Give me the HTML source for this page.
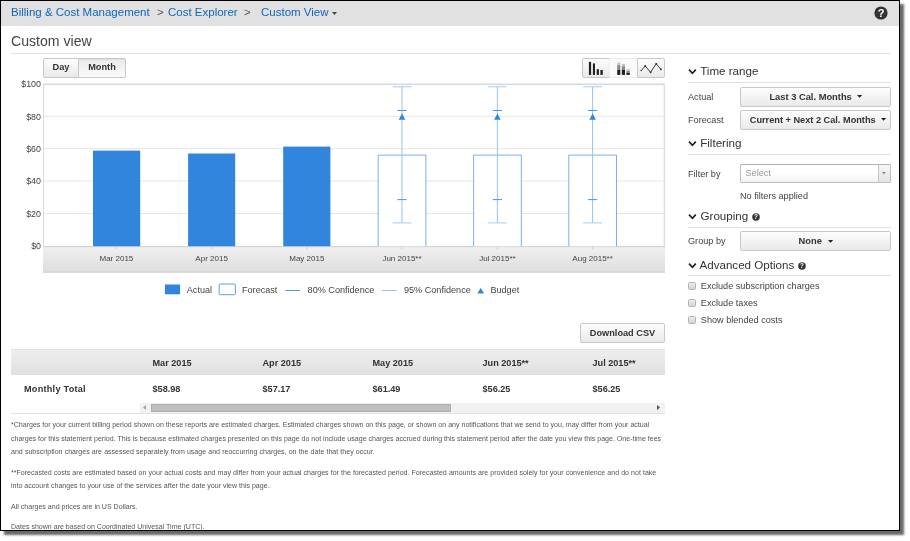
<!DOCTYPE html>
<html><head><meta charset="utf-8">
<style>
html,body{margin:0;padding:0;background:#fff;}
body{width:910px;height:541px;position:relative;overflow:hidden;font-family:"Liberation Sans",Arial,sans-serif;color:#333;}
.abs{position:absolute;white-space:nowrap;}
#frame{position:absolute;left:0;top:0;width:898px;height:529px;border:1px solid #000;background:#fff;box-shadow:4px 4px 2px 0 #6a6a6a;}
#hdr{position:absolute;left:1px;top:1px;width:898px;height:24.5px;background:#e1e1e1;}
.bc{font-size:11.5px;color:#1166bb;top:5px;line-height:14px;}
.t{line-height:12px;font-size:9.15px;color:#444;}
.b{font-weight:bold;color:#333;}
.hline{position:absolute;height:1px;background:#e2e2e2;}
.btn{position:absolute;box-sizing:border-box;border:1px solid #c8c8c8;border-radius:2px;background:linear-gradient(#fdfdfd,#e9e9e9);font-size:9.2px;font-weight:bold;color:#333;text-align:center;white-space:nowrap;}
.sec{font-size:11.6px;color:#333;line-height:14px;}
.cb{position:absolute;width:6px;height:6px;border:1px solid #b4b4b4;border-radius:1.5px;background:linear-gradient(#ececec,#d4d4d4);left:688px;}
.fn{font-size:7.05px;color:#555;line-height:10px;left:11px;}
.ax{font-size:8px;color:#333;line-height:10px;}
</style></head><body>
<div id="frame"></div>
<div id="clip" style="position:absolute;left:0;top:0;width:899px;height:530px;overflow:hidden">
<div id="hdr"></div>
<div class="abs bc" style="left:11px">Billing &amp; Cost Management</div>
<div class="abs bc" style="left:157px;color:#555">&gt;</div>
<div class="abs bc" style="left:168px">Cost Explorer</div>
<div class="abs bc" style="left:244px;color:#555">&gt;</div>
<div class="abs bc" style="left:261px">Custom View</div>
<svg class="abs" style="left:331.5px;top:11.5px" width="6" height="4"><path d="M0 0H5L2.5 3Z" fill="#444"/></svg>
<svg class="abs" style="left:874px;top:6.4px" width="14" height="14" viewBox="0 0 14 14"><circle cx="7" cy="7" r="6.6" fill="#333"/><text x="7" y="11" text-anchor="middle" font-family="Liberation Sans" font-weight="bold" font-size="11" fill="#fff">?</text></svg>

<div class="abs" style="left:11px;top:32px;font-size:14.1px;line-height:18px;color:#444">Custom view</div>
<div class="hline" style="left:11px;top:53px;width:880px"></div>

<!-- Day / Month -->
<div class="btn" style="left:43px;top:58px;width:36px;height:20px;line-height:17.2px;border-radius:2px 0 0 2px">Day</div>
<div class="btn" style="left:78px;top:58px;width:48px;height:20px;line-height:17.2px;border-radius:0 2px 2px 0;background:linear-gradient(#e9e9e9,#fbfbfb);box-shadow:inset 0 1px 1px rgba(0,0,0,.06)">Month</div>

<!-- chart type buttons -->
<div class="btn" style="left:582px;top:58px;width:28px;height:20px;border-radius:2px 0 0 2px"></div>
<div class="btn" style="left:609px;top:58px;width:29px;height:20px;border-radius:0;background:#fafafa;border-color:#eee"></div>
<div class="btn" style="left:637px;top:58px;width:28px;height:20px;border-radius:0 2px 2px 0"></div>
<svg class="abs" style="left:582px;top:58px" width="84" height="20" viewBox="0 0 84 20">
 <g fill="#222"><rect x="6.9" y="3.9" width="2.2" height="13"/><rect x="10.9" y="5.4" width="2.1" height="11.5"/><rect x="14.7" y="11.2" width="2.2" height="5.7"/><rect x="18.4" y="12" width="2.4" height="4.9"/></g>
 <g><rect x="35.2" y="4.6" width="3.1" height="2.5" fill="#c4c4c4"/><rect x="35.2" y="7.1" width="3.1" height="4.6" fill="#8a8a8a"/><rect x="35.2" y="11.7" width="3.1" height="5.2" fill="#222"/>
 <rect x="39.8" y="5.9" width="3.2" height="2.3" fill="#c4c4c4"/><rect x="39.8" y="8.2" width="3.2" height="3.5" fill="#8a8a8a"/><rect x="39.8" y="11.7" width="3.2" height="5.2" fill="#222"/>
 <rect x="44.4" y="11.2" width="3.4" height="1.8" fill="#c4c4c4"/><rect x="44.4" y="13" width="3.4" height="1.9" fill="#8a8a8a"/><rect x="44.4" y="14.9" width="3.4" height="2" fill="#222"/></g>
 <path d="M59.2 12.6L63.2 8L68.6 14.3L74.2 5.8L78.9 11.3" fill="none" stroke="#222" stroke-width="0.9"/>
 <g fill="#222"><circle cx="63.2" cy="8" r=".9"/><circle cx="68.6" cy="14.3" r=".9"/><circle cx="74.2" cy="5.8" r=".9"/><circle cx="78.9" cy="11.3" r=".9"/><circle cx="59.2" cy="12.6" r=".7"/></g>
</svg>

<!-- chart -->
<svg class="abs" style="left:0;top:80px" width="680" height="220" viewBox="0 80 680 220">
 <defs><linearGradient id="xg" x1="0" y1="0" x2="0" y2="1"><stop offset="0" stop-color="#f0f0f0"/><stop offset="1" stop-color="#dedede"/></linearGradient></defs>
 <rect x="43" y="83.5" width="622" height="1.6" fill="#dadada"/>
 <rect x="43" y="84" width="1" height="162" fill="#dcdcdc"/>
 <rect x="663.6" y="84" width="1.5" height="162" fill="#e0e0e0"/>
 <path d="M44 116.3H664.5M44 148.7H664.5M44 181.1H664.5M44 213.5H664.5" stroke="#e6e6e6" stroke-width="1" fill="none"/>
 <rect x="43" y="246.3" width="622" height="26.2" fill="url(#xg)"/>
 <rect x="43" y="246.1" width="622" height="1" fill="#cfcfcf"/>
 <rect x="43" y="271.6" width="622" height="1" fill="#cdcdcd"/>
 <path d="M116.4 247V249M211.6 247V249M306.8 247V249M402 247V249M497.4 247V249M592.6 247V249" stroke="#ccc" stroke-width="1" fill="none"/>
 <g fill="#3185dd"><rect x="93" y="150.6" width="47.2" height="95.6"/><rect x="188.1" y="153.5" width="47.1" height="92.7"/><rect x="283.2" y="146.6" width="47.2" height="99.6"/></g>
 <g fill="#fff" stroke="#4a90e2" stroke-opacity=".72" stroke-width="1"><path d="M378.2 246.2V155.1H425.9V246.2"/><path d="M473.6 246.2V155.1H521.3V246.2"/><path d="M568.8 246.2V155.1H616.5V246.2"/></g>
 <g stroke="#96c3f0" stroke-width="1" fill="none"><path d="M402 86.8V222.9"/><path d="M497.4 86.8V222.9"/><path d="M592.6 86.8V222.9"/></g>
 <g stroke="#a6ccf3" stroke-width="1" fill="none"><path d="M392.6 86.8H411.4M392.6 222.9H411.4"/><path d="M488.0 86.8H506.8M488.0 222.9H506.8"/><path d="M583.2 86.8H602.0M583.2 222.9H602.0"/></g>
 <g stroke="#4d96e2" stroke-width="1" fill="none"><path d="M397.4 110.5H406.7M397.4 199.6H406.7"/><path d="M492.8 110.5H502.1M492.8 199.6H502.1"/><path d="M588.0 110.5H597.3M588.0 199.6H597.3"/></g>
 <g fill="#2f86de"><path d="M402 113.6L405.3 119.8H398.7Z"/><path d="M497.4 113.6L500.7 119.8H494.1Z"/><path d="M592.6 113.6L595.9 119.8H589.3Z"/></g>
 <g font-family="Liberation Sans" font-size="8.9" fill="#444" text-anchor="end"><text x="41" y="86.9">$100</text><text x="41" y="119.6">$80</text><text x="41" y="151.9">$60</text><text x="41" y="184.3">$40</text><text x="41" y="216.7">$20</text><text x="41" y="248.7">$0</text></g>
 <g font-family="Liberation Sans" font-size="8" fill="#444" text-anchor="middle"><text x="116.4" y="261.3">Mar 2015</text><text x="211.6" y="261.3">Apr 2015</text><text x="306.8" y="261.3">May 2015</text><text x="402" y="261.3">Jun 2015**</text><text x="497.4" y="261.3">Jul 2015**</text><text x="592.6" y="261.3">Aug 2015**</text></g>
 <!-- legend -->
 <rect x="164.9" y="284.5" width="15.2" height="9.8" fill="#3185dd"/>
 <rect x="219.2" y="284" width="16.2" height="10.7" rx="1" fill="#fff" stroke="#5a9fe6"/>
 <path d="M285.4 290.5H300" stroke="#4d96e2"/><path d="M381.8 290.5H396.8" stroke="#96c2f0"/>
 <path d="M480.7 287.9L484.1 293.4H477.3Z" fill="#2f86de"/>
 <g font-family="Liberation Sans" font-size="9.1" fill="#444"><text x="186.8" y="293">Actual</text><text x="242" y="293">Forecast</text><text x="307.6" y="293">80% Confidence</text><text x="404" y="293">95% Confidence</text><text x="490.4" y="293">Budget</text></g>
</svg>

<!-- download -->
<div class="btn" style="left:580px;top:323px;width:85px;height:20px;line-height:18px">Download CSV</div>

<!-- table -->
<div class="abs" style="left:11px;top:348.7px;width:654px;height:26.2px;background:linear-gradient(#dcdcdc 0,#eeeeee 1.2px,#e0e0e0 100%)"></div>
<div class="abs t b" style="left:152.5px;top:357px">Mar 2015</div>
<div class="abs t b" style="left:262.5px;top:357px">Apr 2015</div>
<div class="abs t b" style="left:372.5px;top:357px">May 2015</div>
<div class="abs t b" style="left:482.5px;top:357px">Jun 2015**</div>
<div class="abs t b" style="left:592.5px;top:357px">Jul 2015**</div>
<div class="abs t b" style="left:24px;top:383px;letter-spacing:.25px">Monthly Total</div>
<div class="abs t b" style="left:152.5px;top:383px">$58.98</div>
<div class="abs t b" style="left:262.5px;top:383px">$57.17</div>
<div class="abs t b" style="left:372.5px;top:383px">$61.49</div>
<div class="abs t b" style="left:482.5px;top:383px">$56.25</div>
<div class="abs t b" style="left:592.5px;top:383px">$56.25</div>
<div class="abs" style="left:140px;top:402.5px;width:525px;height:10.5px;background:#f2f2f2"></div>
<div class="abs" style="left:150.6px;top:403.8px;width:300.8px;height:8.3px;box-sizing:border-box;border:1px solid #adadad;background:#bfbfbf"></div>
<svg class="abs" style="left:143.3px;top:405.4px" width="4" height="5"><path d="M3 0L0 2.5L3 5Z" fill="#a3a3a3"/></svg>
<svg class="abs" style="left:657.3px;top:405.4px" width="4" height="5"><path d="M0 0L3 2.5L0 5Z" fill="#505050"/></svg>
<div class="hline" style="left:11px;top:413px;width:654px"></div>

<!-- footnotes -->
<div class="abs fn" style="top:420px;width:638.2px;white-space:normal;text-align:justify;text-align-last:justify">*Charges for your current billing period shown on these reports are estimated charges. Estimated charges shown on this page, or shown on any notifications that we send to you, may differ from your actual</div>
<div class="abs fn" style="top:433.5px">charges for this statement period. This is because estimated charges presented on this page do not include usage charges accrued during this statement period after the date you view this page. One-time fees</div>
<div class="abs fn" style="top:447px;width:363.6px;white-space:normal;text-align:justify;text-align-last:justify">and subscription charges are assessed separately from usage and reoccurring charges, on the date that they occur.</div>
<div class="abs fn" style="top:467.5px;width:645.3px;white-space:normal;text-align:justify;text-align-last:justify">**Forecasted costs are estimated based on your actual costs and may differ from your actual charges for the forecasted period. Forecasted amounts are provided solely for your convenience and do not take</div>
<div class="abs fn" style="top:481px;width:258.6px;white-space:normal;text-align:justify;text-align-last:justify">into account changes to your use of the services after the date your view this page.</div>
<div class="abs fn" style="top:501.5px">All charges and prices are in US Dollars.</div>
<div class="abs fn" style="top:522px;width:193.6px;white-space:normal;text-align:justify;text-align-last:justify">Dates shown are based on Coordinated Univesal Time (UTC).</div>

<!-- right panel -->
<svg class="abs" style="left:687px;top:67.2px" width="11" height="8"><path d="M2 2.7L5.4 6.3L8.8 2.7" fill="none" stroke="#222" stroke-width="1.7"/></svg>
<div class="abs sec" style="left:700.2px;top:64px">Time range</div>
<div class="hline" style="left:688px;top:82px;width:203px"></div>
<div class="abs t" style="left:688px;top:90.5px">Actual</div>
<div class="btn" style="left:740px;top:87px;width:151px;height:20px;line-height:18px;text-align:left;padding-left:28.4px;font-size:9.33px">Last 3 Cal. Months</div><svg class="abs" style="left:856.8px;top:94.9px" width="6" height="3"><path d="M0 0H5.2L2.6 2.7Z" fill="#222"/></svg>
<div class="abs t" style="left:688px;top:113.5px">Forecast</div>
<div class="btn" style="left:740px;top:110px;width:151px;height:20px;line-height:18px;text-align:left;padding-left:8.8px">Current + Next 2 Cal. Months</div><svg class="abs" style="left:880.9px;top:118.1px" width="6" height="3"><path d="M0 0H5.2L2.6 2.7Z" fill="#222"/></svg>

<svg class="abs" style="left:687px;top:139.2px" width="11" height="8"><path d="M2 2.7L5.4 6.3L8.8 2.7" fill="none" stroke="#222" stroke-width="1.7"/></svg>
<div class="abs sec" style="left:700.2px;top:135.8px">Filtering</div>
<div class="hline" style="left:688px;top:154px;width:203px"></div>
<div class="abs t" style="left:688px;top:168px">Filter by</div>
<div class="abs" style="left:740px;top:164px;width:149px;height:17px;border:1px solid #bfbfbf;border-top-color:#b0b0b0;border-radius:2px;background:linear-gradient(#fff 45%,#f1f1f1)"></div>
<div class="abs" style="left:878px;top:165px;width:11px;height:17px;border-left:1px solid #c4c4c4;background:linear-gradient(#f6f6f6,#e4e4e4)"></div>
<svg class="abs" style="left:882.3px;top:172.3px" width="5" height="4"><path d="M0 0H3.8L1.9 2.6Z" fill="#888"/></svg>
<div class="abs t" style="left:745.5px;top:167.3px;color:#999">Select</div>
<div class="abs t" style="left:740px;top:189.5px">No filters applied</div>

<svg class="abs" style="left:687px;top:211.7px" width="11" height="8"><path d="M2 2.7L5.4 6.3L8.8 2.7" fill="none" stroke="#222" stroke-width="1.7"/></svg>
<div class="abs sec" style="left:700.5px;top:208.5px">Grouping</div>
<div class="hline" style="left:688px;top:227px;width:203px"></div>
<div class="abs t" style="left:688px;top:235px">Group by</div>
<div class="btn" style="left:740px;top:231px;width:151px;height:20px;line-height:18px;text-align:left;padding-left:57.6px;font-size:9.3px">None</div><svg class="abs" style="left:827.6px;top:239.8px" width="6" height="3"><path d="M0 0H5.2L2.6 2.7Z" fill="#222"/></svg>

<svg class="abs" style="left:687px;top:260.7px" width="11" height="8"><path d="M2 2.7L5.4 6.3L8.8 2.7" fill="none" stroke="#222" stroke-width="1.7"/></svg>
<div class="abs sec" style="left:699.5px;top:257.5px">Advanced Options</div>
<div class="hline" style="left:688px;top:275px;width:203px"></div>
<div class="cb" style="top:282px"></div><div class="abs t" style="left:700.8px;top:280px">Exclude subscription charges</div>
<div class="cb" style="top:298.8px"></div><div class="abs t" style="left:700.8px;top:297px">Exclude taxes</div>
<div class="cb" style="top:315.5px"></div><div class="abs t" style="left:700.8px;top:313.7px">Show blended costs</div>
<style>.car{display:inline-block;width:0;height:0;border-left:2.5px solid transparent;border-right:2.5px solid transparent;border-top:3px solid #222;vertical-align:middle;margin-left:3px;margin-top:-1px}</style>
<svg class="abs" style="left:751.6px;top:212.7px" width="8" height="8" viewBox="0 0 14 14"><circle cx="7" cy="7" r="6.6" fill="#333"/><text x="7" y="11" text-anchor="middle" font-family="Liberation Sans" font-weight="bold" font-size="11" fill="#fff">?</text></svg>
<svg class="abs" style="left:797.9px;top:261.5px" width="8" height="8" viewBox="0 0 14 14"><circle cx="7" cy="7" r="6.6" fill="#333"/><text x="7" y="11" text-anchor="middle" font-family="Liberation Sans" font-weight="bold" font-size="11" fill="#fff">?</text></svg>
</div>
</body></html>
